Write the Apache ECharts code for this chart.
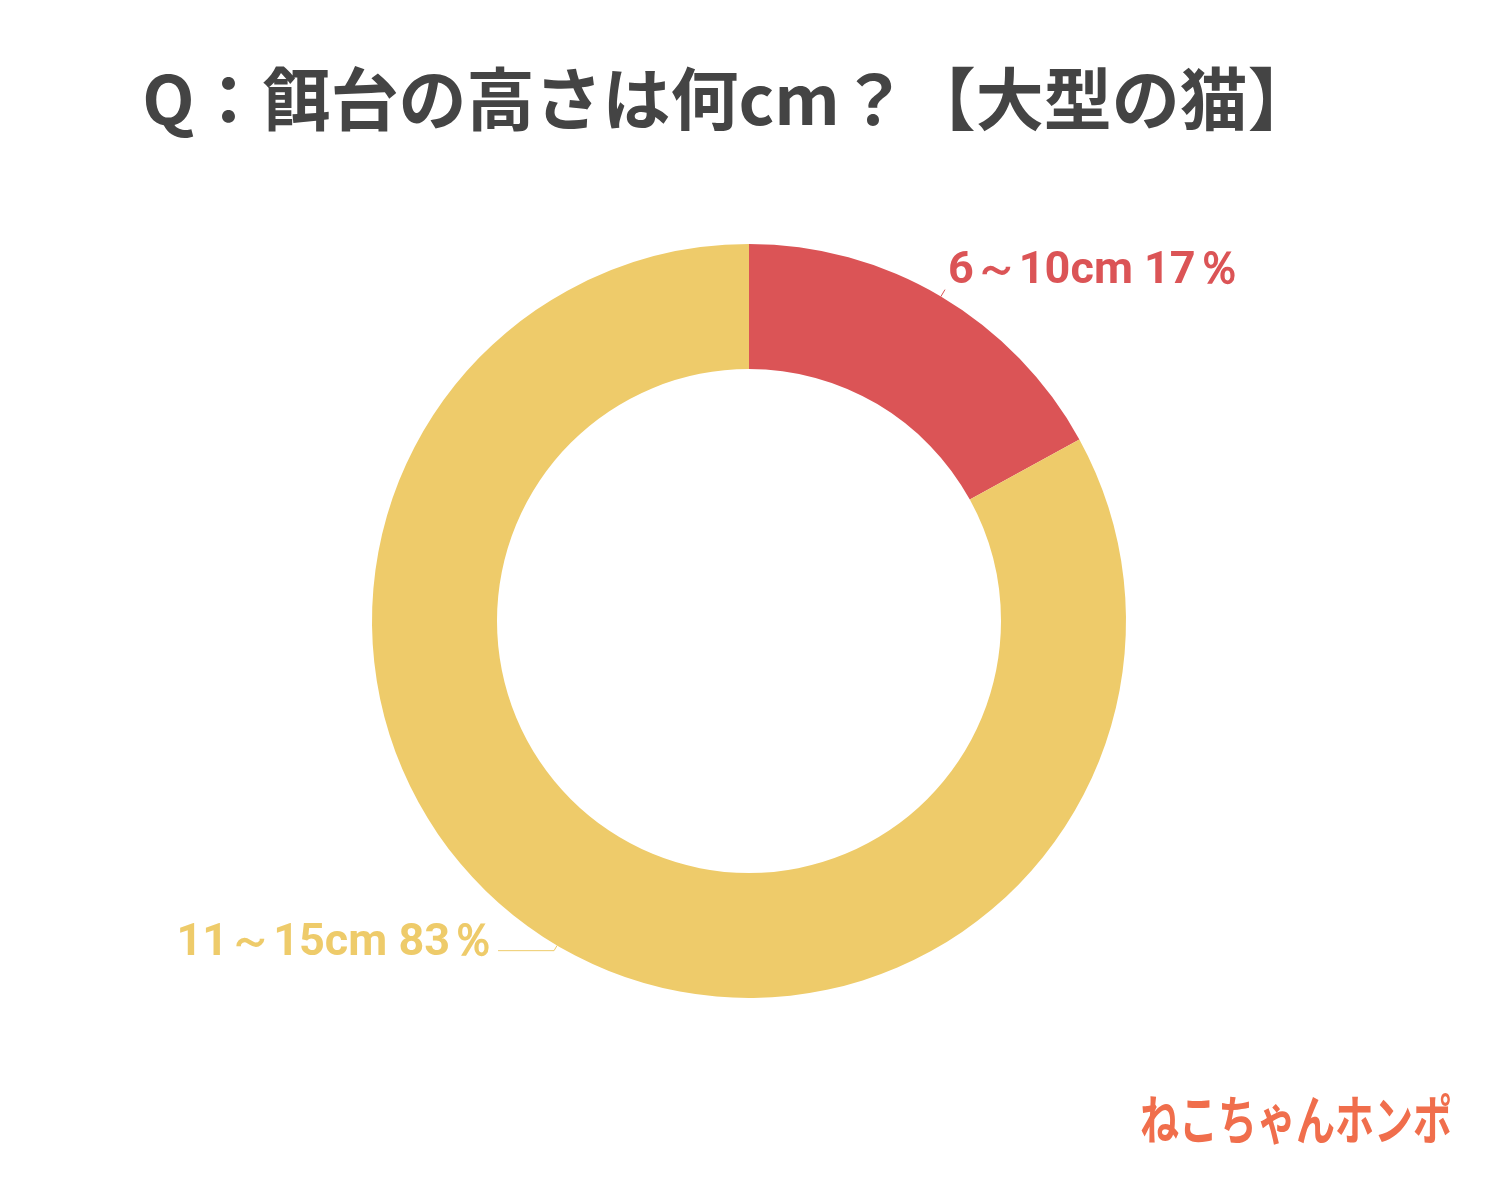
<!DOCTYPE html>
<html><head><meta charset="utf-8">
<script src="https://cdn.jsdelivr.net/npm/echarts@6/dist/echarts.min.js"></script>
<style>html,body{margin:0;padding:0;background:#fff}#c{width:1500px;height:1200px}</style>
</head><body><div id="c"></div>
<script>
const titleText = 'Q：餌台の高さは何cm？【大型の猫】';
const categories = ['6～10cm', '11～15cm'];
const values = [17, 83];
const colors = ['#DB5456', '#EECB6A'];

const chart = echarts.init(document.getElementById('c'), null, {renderer: 'canvas'});
const data = categories.map((name, i) => ({
  name, value: values[i],
  itemStyle: {color: colors[i]},
  label: {color: colors[i]},
  labelLine: i === 0 ? {length: 8, length2: 0} : {length: 6, length2: 56}
}));
chart.setOption({
  backgroundColor: '#fff',
  title: {
    text: titleText, left: 724, top: 60, textAlign: 'center',
    textStyle: {fontFamily: 'Noto Sans CJK JP', fontWeight: 'bold', fontSize: 68, color: '#444444'}
  },
  graphic: [{
    type: 'text', left: 1140, top: 1093, scaleX: 0.78, scaleY: 1.06,
    style: {text: 'ねこちゃんホンポ', fontFamily: 'Noto Sans CJK JP', fontWeight: 'bold', fontSize: 50, fill: '#F06E4C'}
  }],
  series: [{
    type: 'pie',
    center: [749, 621],
    radius: [252, 377],
    startAngle: 90,
    clockwise: true,
    avoidLabelOverlap: false,
    label: {
      show: true, position: 'outside',
      formatter: p => p.name + ' ' + p.value + '％',
      fontFamily: 'Roboto', fontWeight: 'bold', fontSize: 45,
      distanceToLabelLine: 3
    },
    labelLine: {show: true, lineStyle: {width: 1}},
    labelLayout: p => ({dy: p.dataIndex === 0 ? -18 : -7}),
    emphasis: {disabled: true},
    data
  }]
});
</script></body></html>
